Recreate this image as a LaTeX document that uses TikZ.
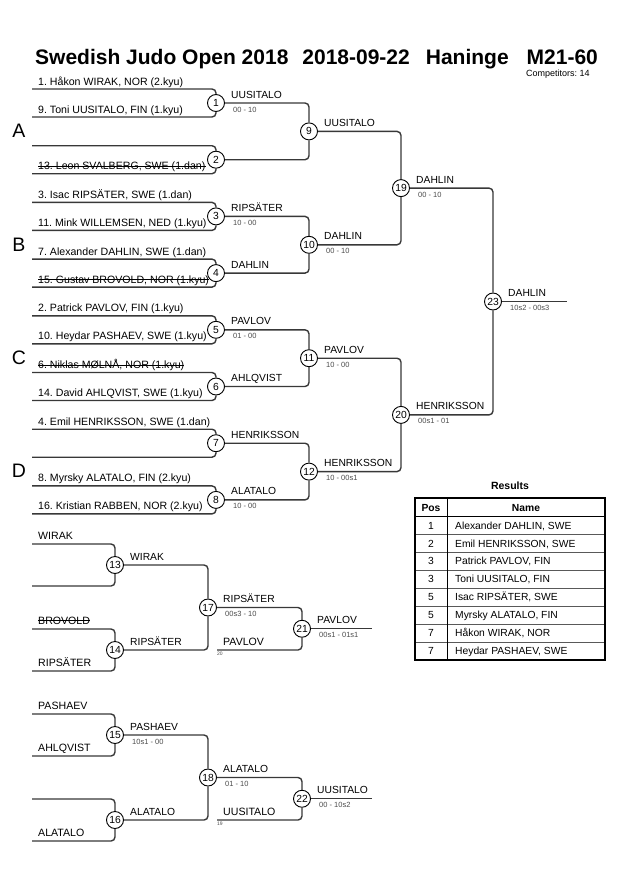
\documentclass[tikz,border=0pt]{standalone}
\usepackage{fontspec}
\setmainfont{Liberation Sans}
\usetikzlibrary{positioning}
\frenchspacing

\begin{document}
\begin{tikzpicture}[x=1pt, y=-1pt,
    bracket/.style={draw=black!78, line width=1.4pt, rounded corners=4pt},
    match/.style={circle, draw, fill=white, line width=0.9pt, minimum size=17pt, inner sep=0pt, font=\fontsize{10.3}{10}\selectfont},
    player/.style={anchor=base west, inner sep=0pt, font=\fontsize{10.6}{12}\selectfont},
    struck/.style={append after command={\pgfextra{\draw[line width=0.8pt] ([yshift=3.3pt]\tikzlastnode.base west) -- ([yshift=3.3pt]\tikzlastnode.base east);}}},
    winner/.style={anchor=base west, inner sep=0pt, font=\fontsize{10.3}{12}\selectfont},
    score/.style={anchor=base west, inner sep=0pt, text=black!70, font=\fontsize{7.5}{8}\selectfont},
    fromtag/.style={anchor=north west, inner sep=0pt, text=black!70, font=\fontsize{5}{5}\selectfont},
    pool/.style={inner sep=0pt, font=\fontsize{19.5}{20}\selectfont},
    heading/.style={anchor=base west, inner sep=0pt, font=\bfseries\fontsize{21}{24}\selectfont},
    cell/.style={anchor=base, inner sep=0pt, font=\fontsize{10.3}{12}\selectfont}]

    \useasboundingbox (0,0) rectangle (630,891);

    % Title
    \node [heading] (title) at (35,64) {Swedish Judo Open 2018\hspace{14pt}2018-09-22\hspace{16pt}Haninge\hspace{18pt}M21-60};
    \node [anchor=base west, inner sep=0pt, font=\fontsize{9}{10}\selectfont] (count) at (526,77) {Competitors: 14};

    % Pools
    \node [pool] (poolA) at (19,131) {A};
    \node [pool] (poolB) at (19,245) {B};
    \node [pool] (poolC) at (19,358) {C};
    \node [pool] (poolD) at (19,471) {D};

    % Matches {1, 2, ..., 23}
    \node [match] (m1)  at (216,103)   {1};
    \node [match] (m2)  at (216,159.7) {2};
    \node [match] (m3)  at (216,216.4) {3};
    \node [match] (m4)  at (216,273.1) {4};
    \node [match] (m5)  at (216,329.8) {5};
    \node [match] (m6)  at (216,386.5) {6};
    \node [match] (m7)  at (216,443.2) {7};
    \node [match] (m8)  at (216,499.9) {8};
    \node [match] (m9)  at (309,131.4) {9};
    \node [match] (m10) at (309,244.8) {10};
    \node [match] (m11) at (309,358.2) {11};
    \node [match] (m12) at (309,471.6) {12};
    \node [match] (m19) at (401,188.1) {19};
    \node [match] (m20) at (401,414.9) {20};
    \node [match] (m23) at (493,301.5) {23};

    \node [match] (m13) at (115,565)    {13};
    \node [match] (m14) at (115,650)    {14};
    \node [match] (m17) at (208,607.5)  {17};
    \node [match] (m21) at (302,628.75) {21};
    \node [match] (m15) at (115,735)    {15};
    \node [match] (m16) at (115,820)    {16};
    \node [match] (m18) at (208,777.5)  {18};
    \node [match] (m22) at (302,798.75) {22};

    % Line ends
    \coordinate (e1a) at (32,89);    \coordinate (e1b) at (32,117);
    \coordinate (e2a) at (32,145.7); \coordinate (e2b) at (32,173.7);
    \coordinate (e3a) at (32,202.4); \coordinate (e3b) at (32,230.4);
    \coordinate (e4a) at (32,259.1); \coordinate (e4b) at (32,287.1);
    \coordinate (e5a) at (32,315.8); \coordinate (e5b) at (32,343.8);
    \coordinate (e6a) at (32,372.5); \coordinate (e6b) at (32,400.5);
    \coordinate (e7a) at (32,429.2); \coordinate (e7b) at (32,457.2);
    \coordinate (e8a) at (32,485.9); \coordinate (e8b) at (32,513.9);
    \coordinate (f23) at (567,301.5);

    \coordinate (e13a) at (32,544); \coordinate (e13b) at (32,586);
    \coordinate (e14a) at (32,629); \coordinate (e14b) at (32,671);
    \coordinate (e15a) at (32,714); \coordinate (e15b) at (32,756);
    \coordinate (e16a) at (32,799); \coordinate (e16b) at (32,841);
    \coordinate (l20) at (217,650);  \coordinate (f21) at (372,628.75);
    \coordinate (l19) at (217,820);  \coordinate (f22) at (372,798.75);

    % Paths
    \draw [bracket] (e1a) -| (m1.north);  \draw [bracket] (e1b) -| (m1.south);
    \draw [bracket] (e2a) -| (m2.north);  \draw [bracket] (e2b) -| (m2.south);
    \draw [bracket] (e3a) -| (m3.north);  \draw [bracket] (e3b) -| (m3.south);
    \draw [bracket] (e4a) -| (m4.north);  \draw [bracket] (e4b) -| (m4.south);
    \draw [bracket] (e5a) -| (m5.north);  \draw [bracket] (e5b) -| (m5.south);
    \draw [bracket] (e6a) -| (m6.north);  \draw [bracket] (e6b) -| (m6.south);
    \draw [bracket] (e7a) -| (m7.north);  \draw [bracket] (e7b) -| (m7.south);
    \draw [bracket] (e8a) -| (m8.north);  \draw [bracket] (e8b) -| (m8.south);
    \draw [bracket] (m1.east) -| (m9.north);   \draw [bracket] (m2.east) -| (m9.south);
    \draw [bracket] (m3.east) -| (m10.north);  \draw [bracket] (m4.east) -| (m10.south);
    \draw [bracket] (m5.east) -| (m11.north);  \draw [bracket] (m6.east) -| (m11.south);
    \draw [bracket] (m7.east) -| (m12.north);  \draw [bracket] (m8.east) -| (m12.south);
    \draw [bracket] (m9.east) -| (m19.north);  \draw [bracket] (m10.east) -| (m19.south);
    \draw [bracket] (m11.east) -| (m20.north); \draw [bracket] (m12.east) -| (m20.south);
    \draw [bracket] (m19.east) -| (m23.north); \draw [bracket] (m20.east) -| (m23.south);
    \draw [bracket] (m23.east) -- (f23);

    \draw [bracket] (e13a) -| (m13.north); \draw [bracket] (e13b) -| (m13.south);
    \draw [bracket] (e14a) -| (m14.north); \draw [bracket] (e14b) -| (m14.south);
    \draw [bracket] (m13.east) -| (m17.north); \draw [bracket] (m14.east) -| (m17.south);
    \draw [bracket] (m17.east) -| (m21.north); \draw [bracket] (l20) -| (m21.south);
    \draw [bracket] (m21.east) -- (f21);
    \draw [bracket] (e15a) -| (m15.north); \draw [bracket] (e15b) -| (m15.south);
    \draw [bracket] (e16a) -| (m16.north); \draw [bracket] (e16b) -| (m16.south);
    \draw [bracket] (m15.east) -| (m18.north); \draw [bracket] (m16.east) -| (m18.south);
    \draw [bracket] (m18.east) -| (m22.north); \draw [bracket] (l19) -| (m22.south);
    \draw [bracket] (m22.east) -- (f22);

    % Competitors
    \node [player] (p1a) at ([shift={(6,-4)}]e1a) {1. Håkon WIRAK, NOR (2.kyu)};
    \node [player] (p1b) at ([shift={(6,-4)}]e1b) {9. Toni UUSITALO, FIN (1.kyu)};
    \node [player, struck] (p2b) at ([shift={(6,-4)}]e2b) {13. Leon SVALBERG, SWE (1.dan)};
    \node [player] (p3a) at ([shift={(6,-4)}]e3a) {3. Isac RIPSÄTER, SWE (1.dan)};
    \node [player] (p3b) at ([shift={(6,-4)}]e3b) {11. Mink WILLEMSEN, NED (1.kyu)};
    \node [player] (p4a) at ([shift={(6,-4)}]e4a) {7. Alexander DAHLIN, SWE (1.dan)};
    \node [player, struck] (p4b) at ([shift={(6,-4)}]e4b) {15. Gustav BROVOLD, NOR (1.kyu)};
    \node [player] (p5a) at ([shift={(6,-4)}]e5a) {2. Patrick PAVLOV, FIN (1.kyu)};
    \node [player] (p5b) at ([shift={(6,-4)}]e5b) {10. Heydar PASHAEV, SWE (1.kyu)};
    \node [player, struck] (p6a) at ([shift={(6,-4)}]e6a) {6. Niklas MØLNÅ, NOR (1.kyu)};
    \node [player] (p6b) at ([shift={(6,-4)}]e6b) {14. David AHLQVIST, SWE (1.kyu)};
    \node [player] (p7a) at ([shift={(6,-4)}]e7a) {4. Emil HENRIKSSON, SWE (1.dan)};
    \node [player] (p8a) at ([shift={(6,-4)}]e8a) {8. Myrsky ALATALO, FIN (2.kyu)};
    \node [player] (p8b) at ([shift={(6,-4)}]e8b) {16. Kristian RABBEN, NOR (2.kyu)};

    \node [player] (p13a) at ([shift={(6,-5)}]e13a) {WIRAK};
    \node [player, struck] (p14a) at ([shift={(6,-5)}]e14a) {BROVOLD};
    \node [player] (p14b) at ([shift={(6,-5)}]e14b) {RIPSÄTER};
    \node [player] (p15a) at ([shift={(6,-5)}]e15a) {PASHAEV};
    \node [player] (p15b) at ([shift={(6,-5)}]e15b) {AHLQVIST};
    \node [player] (p16b) at ([shift={(6,-5)}]e16b) {ALATALO};
    \node [player] (p20) at ([shift={(6,-5)}]l20) {PAVLOV};
    \node [fromtag] (t20) at ([shift={(0,2)}]l20) {20};
    \node [player] (p19) at ([shift={(6,-5)}]l19) {UUSITALO};
    \node [fromtag] (t19) at ([shift={(0,2)}]l19) {19};

    % Winners and scores
    \node [winner] (w1) at ([shift={(15,-5)}]m1) {UUSITALO};
    \node [score]  (s1) at ([shift={(17,9)}]m1)  {00 - 10};
    \node [winner] (w3) at ([shift={(15,-5)}]m3) {RIPSÄTER};
    \node [score]  (s3) at ([shift={(17,9)}]m3)  {10 - 00};
    \node [winner] (w4) at ([shift={(15,-5)}]m4) {DAHLIN};
    \node [winner] (w5) at ([shift={(15,-5)}]m5) {PAVLOV};
    \node [score]  (s5) at ([shift={(17,9)}]m5)  {01 - 00};
    \node [winner] (w6) at ([shift={(15,-5)}]m6) {AHLQVIST};
    \node [winner] (w7) at ([shift={(15,-5)}]m7) {HENRIKSSON};
    \node [winner] (w8) at ([shift={(15,-5)}]m8) {ALATALO};
    \node [score]  (s8) at ([shift={(17,9)}]m8)  {10 - 00};
    \node [winner] (w9) at ([shift={(15,-5)}]m9) {UUSITALO};
    \node [winner] (w10) at ([shift={(15,-5)}]m10) {DAHLIN};
    \node [score]  (s10) at ([shift={(17,9)}]m10)  {00 - 10};
    \node [winner] (w11) at ([shift={(15,-5)}]m11) {PAVLOV};
    \node [score]  (s11) at ([shift={(17,9)}]m11)  {10 - 00};
    \node [winner] (w12) at ([shift={(15,-5)}]m12) {HENRIKSSON};
    \node [score]  (s12) at ([shift={(17,9)}]m12)  {10 - 00s1};
    \node [winner] (w19) at ([shift={(15,-5)}]m19) {DAHLIN};
    \node [score]  (s19) at ([shift={(17,9)}]m19)  {00 - 10};
    \node [winner] (w20) at ([shift={(15,-5)}]m20) {HENRIKSSON};
    \node [score]  (s20) at ([shift={(17,9)}]m20)  {00s1 - 01};
    \node [winner] (w23) at ([shift={(15,-5)}]m23) {DAHLIN};
    \node [score]  (s23) at ([shift={(17,9)}]m23)  {10s2 - 00s3};

    \node [winner] (w13) at ([shift={(15,-5)}]m13) {WIRAK};
    \node [winner] (w14) at ([shift={(15,-5)}]m14) {RIPSÄTER};
    \node [winner] (w17) at ([shift={(15,-5)}]m17) {RIPSÄTER};
    \node [score]  (s17) at ([shift={(17,9)}]m17)  {00s3 - 10};
    \node [winner] (w21) at ([shift={(15,-5)}]m21) {PAVLOV};
    \node [score]  (s21) at ([shift={(17,9)}]m21)  {00s1 - 01s1};
    \node [winner] (w15) at ([shift={(15,-5)}]m15) {PASHAEV};
    \node [score]  (s15) at ([shift={(17,9)}]m15)  {10s1 - 00};
    \node [winner] (w16) at ([shift={(15,-5)}]m16) {ALATALO};
    \node [winner] (w18) at ([shift={(15,-5)}]m18) {ALATALO};
    \node [score]  (s18) at ([shift={(17,9)}]m18)  {01 - 10};
    \node [winner] (w22) at ([shift={(15,-5)}]m22) {UUSITALO};
    \node [score]  (s22) at ([shift={(17,9)}]m22)  {00 - 10s2};

    % Results
    \node [font=\bfseries\fontsize{10.5}{12}\selectfont] (results) at (510,486) {Results};
    \draw [line width=0.8pt, black!65] (415,534.3) -- (605,534.3)
        (415,552.3) -- (605,552.3) (415,570) -- (605,570) (415,588) -- (605,588)
        (415,606) -- (605,606) (415,624) -- (605,624) (415,642) -- (605,642);
    \draw [line width=0.8pt] (447.3,498) -- (447.3,660);
    \draw [line width=1.5pt] (415,516.7) -- (605,516.7);
    \draw [line width=1.8pt] (415,498) rectangle (605,660);

    \node [cell] (pos0)  at (431,511.1) {\textbf{Pos}};
    \node [cell] (name0) at (526,511.1) {\textbf{Name}};
    \node [cell] (pos1) at (431,529.2) {1};
    \node [cell, anchor=base west] (name1) at (455,529.2) {Alexander DAHLIN, SWE};
    \node [cell] (pos2) at (431,547) {2};
    \node [cell, anchor=base west] (name2) at (455,547) {Emil HENRIKSSON, SWE};
    \node [cell] (pos3) at (431,564.9) {3};
    \node [cell, anchor=base west] (name3) at (455,564.9) {Patrick PAVLOV, FIN};
    \node [cell] (pos4) at (431,582.7) {3};
    \node [cell, anchor=base west] (name4) at (455,582.7) {Toni UUSITALO, FIN};
    \node [cell] (pos5) at (431,600.7) {5};
    \node [cell, anchor=base west] (name5) at (455,600.7) {Isac RIPSÄTER, SWE};
    \node [cell] (pos6) at (431,618.7) {5};
    \node [cell, anchor=base west] (name6) at (455,618.7) {Myrsky ALATALO, FIN};
    \node [cell] (pos7) at (431,636.7) {7};
    \node [cell, anchor=base west] (name7) at (455,636.7) {Håkon WIRAK, NOR};
    \node [cell] (pos8) at (431,654.7) {7};
    \node [cell, anchor=base west] (name8) at (455,654.7) {Heydar PASHAEV, SWE};

\end{tikzpicture}
\end{document}
